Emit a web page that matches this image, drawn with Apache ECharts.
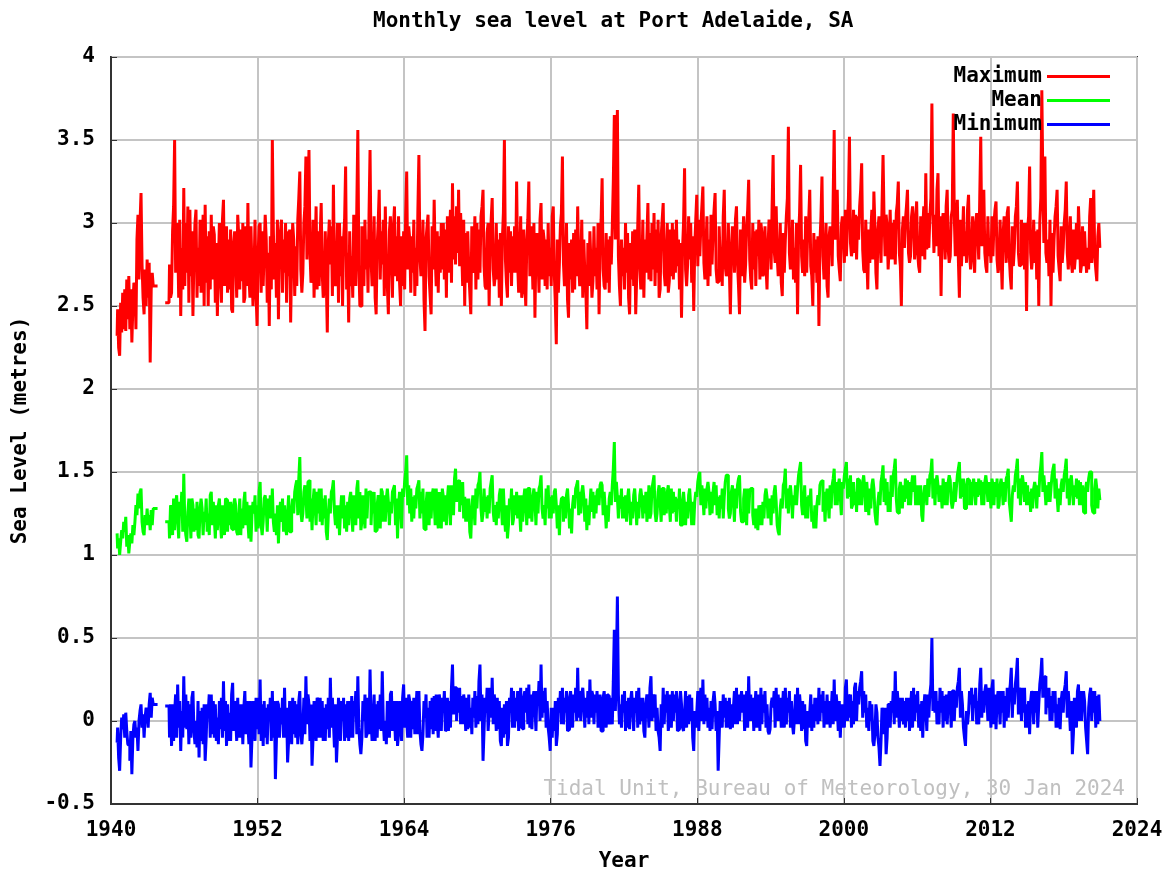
<!DOCTYPE html>
<html>
<head>
<meta charset="utf-8">
<title>Monthly sea level at Port Adelaide, SA</title>
<script src="https://cdn.jsdelivr.net/npm/echarts@6/dist/echarts.min.js"></script>
<style>
  html, body { margin: 0; padding: 0; background: #fff; }
  #chart { width: 1163px; height: 872px; }
</style>
</head>
<body>
<div id="chart"></div>
<script>
// monthly record: Jul 1940 - Jul 1943, then a gap, then Oct 1944 - Jan 2021
var earlyStart = 1940.5;
var lateStart = 1944.75;
var step = 1 / 12;
var seriesNames = ['Maximum', 'Mean', 'Minimum'];

var maxEarly = [
    2.32, 2.48, 2.25, 2.20, 2.52, 2.34,
    2.58, 2.36, 2.60, 2.35, 2.66, 2.42, 2.68, 2.36, 2.60, 2.28, 2.50, 2.64,
    2.62, 2.36, 2.90, 3.05, 2.66, 3.00, 3.18, 2.75, 2.55, 2.45, 2.72, 2.50,
    2.78, 2.55, 2.76, 2.16, 2.60, 2.70, 2.62
];
var meanEarly = [
    1.13, 1.04, 1.10, 1.00, 1.08, 1.15,
    1.10, 1.20, 1.14, 1.23, 1.05, 1.12, 1.01, 1.08, 1.13, 1.07, 1.18, 1.12,
    1.20, 1.30, 1.24, 1.37, 1.28, 1.38, 1.40, 1.20, 1.14, 1.12, 1.24, 1.18,
    1.28, 1.18, 1.24, 1.15, 1.27, 1.18, 1.28
];
var minEarly = [
    -0.13, -0.04, -0.22, -0.30, -0.10, 0.02,
    -0.05, 0.04, -0.10, 0.05, -0.06, -0.14, -0.15, -0.24, -0.06, -0.32, -0.10, -0.02,
    0.00, -0.10, -0.04, -0.18, 0.00, 0.06, 0.10, -0.04, 0.04, -0.10, 0.02, 0.08,
    0.05, -0.04, 0.10, 0.17, 0.02, 0.14, 0.10
];

var maxLate = [
    2.52, 2.75, 2.55,
    2.58, 2.95, 3.10, 3.50, 2.70, 3.00, 2.92, 2.55, 3.02, 2.44, 2.85, 2.60,
    3.21, 2.62, 3.00, 2.70, 3.10, 2.52, 3.08, 2.68, 2.95, 2.44, 2.80, 3.00,
    3.08, 2.55, 2.85, 2.62, 3.02, 2.58, 2.80, 3.05, 2.50, 3.11, 2.64, 2.92,
    2.50, 2.95, 2.60, 3.05, 2.66, 2.98, 2.93, 2.52, 2.88, 2.44, 2.75, 3.00,
    2.70, 2.52, 3.02, 3.14, 2.62, 2.95, 2.98, 2.58, 2.90, 2.60, 2.96, 2.48,
    2.46, 2.88, 2.95, 2.80, 2.55, 3.05, 2.92, 2.60, 2.96, 2.65, 3.00, 2.52,
    2.55, 2.98, 2.62, 3.12, 2.68, 2.55, 2.98, 2.72, 2.50, 2.70, 3.02, 2.58,
    2.38, 2.80, 2.98, 3.00, 2.58, 2.95, 2.62, 2.85, 3.05, 2.90, 2.52, 2.82,
    2.38, 2.92, 2.60, 3.50, 2.96, 2.66, 2.88, 2.55, 3.02, 2.42, 2.85, 2.95,
    3.02, 2.58, 2.90, 2.70, 3.00, 2.52, 2.95, 2.68, 2.96, 2.40, 2.78, 3.00,
    2.90, 2.56, 2.86, 2.62, 3.02, 3.15, 3.31, 2.72, 2.58, 2.70, 3.00, 3.10,
    3.40, 2.78, 3.15, 3.44, 2.82, 2.64, 2.70, 3.02, 2.55, 2.82, 3.10, 2.60,
    2.95, 2.62, 2.92, 3.12, 2.70, 2.55, 2.60, 2.95, 2.66, 2.34, 2.88, 3.02,
    2.75, 2.98, 2.56, 3.23, 2.72, 2.62, 2.70, 3.00, 2.52, 3.00, 2.68, 2.92,
    2.50, 2.90, 3.02, 3.34, 2.60, 2.82, 2.40, 2.95, 2.62, 2.80, 2.55, 3.05,
    2.85, 2.62, 3.10, 3.56, 2.75, 2.50, 2.50, 2.98, 2.66, 2.62, 3.02, 2.72,
    2.90, 2.58, 3.05, 3.44, 2.78, 2.62, 2.70, 3.04, 2.55, 2.45, 2.86, 3.00,
    3.20, 2.66, 2.95, 2.75, 3.02, 2.56, 3.10, 2.72, 2.62, 2.45, 2.95, 3.04,
    2.80, 2.55, 2.98, 3.10, 2.68, 2.92, 2.65, 3.04, 2.64, 2.50, 2.92, 2.62,
    2.95, 2.60, 3.05, 3.31, 2.72, 2.98, 2.90, 2.58, 2.92, 2.70, 3.02, 2.56,
    2.85, 2.62, 3.08, 3.41, 2.80, 2.68, 2.72, 3.02, 2.54, 2.35, 2.90, 2.98,
    3.05, 2.68, 2.56, 2.45, 2.98, 2.72, 3.14, 2.80, 2.62, 2.95, 2.58, 2.92,
    2.70, 3.00, 2.72, 3.00, 2.66, 2.96, 2.55, 3.04, 2.70, 2.90, 3.08, 2.64,
    3.24, 2.78, 3.04, 2.75, 3.10, 2.82, 3.20, 2.74, 3.06, 2.85, 2.62, 3.02,
    2.50, 2.94, 2.64, 2.95, 2.72, 2.58, 2.45, 2.98, 2.70, 2.80, 3.04, 2.60,
    3.00, 2.66, 2.96, 2.70, 3.04, 3.10, 3.20, 2.74, 2.62, 2.60, 2.94, 3.00,
    2.50, 2.86, 3.02, 3.15, 2.72, 2.62, 2.68, 3.00, 2.66, 2.90, 2.55, 2.94,
    2.50, 2.90, 3.06, 3.50, 2.78, 2.64, 2.55, 2.98, 2.70, 2.95, 2.62, 2.92,
    2.70, 2.98, 2.70, 3.25, 2.76, 2.58, 2.80, 3.04, 2.55, 2.60, 2.96, 2.66,
    2.50, 2.88, 3.02, 3.25, 2.68, 2.98, 2.85, 2.60, 3.00, 2.43, 2.86, 2.94,
    2.80, 2.58, 3.02, 3.12, 2.66, 2.96, 2.90, 2.62, 2.90, 2.60, 3.00, 2.68,
    2.85, 2.62, 3.04, 3.10, 2.70, 2.52, 2.27, 2.90, 2.58, 2.75, 2.98, 3.06,
    3.40, 2.76, 2.62, 2.70, 3.00, 2.54, 2.43, 2.88, 2.66, 2.90, 2.58, 2.94,
    2.60, 2.96, 2.68, 3.10, 2.74, 2.62, 2.75, 3.02, 2.55, 2.90, 2.70, 2.60,
    2.36, 2.88, 2.62, 2.95, 2.76, 2.55, 2.65, 2.98, 2.68, 2.85, 2.60, 3.00,
    2.45, 2.86, 3.02, 3.27, 2.72, 2.62, 2.60, 2.94, 2.64, 2.90, 2.58, 2.92,
    2.75, 2.98, 3.25, 3.65, 2.90, 3.35, 3.68, 2.80, 2.62, 2.50, 2.90, 2.68,
    2.85, 2.60, 3.00, 2.70, 2.94, 2.55, 2.45, 2.88, 2.66, 2.95, 2.62, 2.96,
    2.45, 2.68, 2.98, 3.23, 2.74, 2.60, 2.70, 3.02, 2.55, 2.90, 2.70, 2.92,
    3.12, 2.66, 2.94, 2.65, 3.00, 2.72, 3.06, 2.62, 2.96, 2.70, 3.02, 2.55,
    2.60, 2.92, 3.02, 3.12, 2.70, 2.62, 2.80, 3.00, 2.58, 2.65, 2.96, 2.68,
    3.00, 2.66, 2.96, 2.70, 3.02, 2.74, 2.90, 2.60, 2.88, 2.43, 2.84, 3.00,
    3.33, 2.72, 2.62, 2.75, 3.04, 2.78, 3.00, 2.64, 2.92, 2.47, 2.86, 3.02,
    3.17, 2.74, 3.02, 2.80, 2.98, 3.10, 3.22, 2.76, 2.66, 2.85, 3.04, 2.62,
    2.90, 2.68, 3.05, 2.75, 2.96, 3.08, 3.18, 2.72, 2.64, 2.65, 2.98, 2.76,
    2.85, 2.62, 3.04, 3.20, 2.74, 2.68, 2.70, 3.00, 2.72, 2.45, 2.82, 2.98,
    2.90, 2.70, 3.02, 3.10, 2.76, 2.62, 2.45, 2.96, 2.68, 2.85, 3.04, 2.64,
    2.75, 2.98, 3.08, 3.26, 2.78, 2.66, 2.60, 3.00, 2.72, 2.95, 2.62, 2.96,
    2.80, 3.02, 2.66, 3.00, 2.94, 2.68, 2.70, 2.98, 2.74, 2.60, 2.86, 3.02,
    2.95, 2.72, 3.10, 3.41, 2.84, 2.76, 3.10, 2.80, 2.68, 2.75, 3.00, 2.64,
    2.56, 2.94, 2.70, 2.90, 3.04, 3.15, 3.58, 2.82, 2.72, 2.80, 3.02, 2.66,
    2.85, 2.64, 3.00, 2.45, 2.92, 3.06, 3.35, 2.80, 2.70, 2.90, 2.68, 3.04,
    2.70, 2.96, 3.02, 3.20, 2.74, 2.68, 2.50, 2.94, 2.70, 2.90, 2.64, 2.92,
    2.38, 2.88, 3.04, 3.28, 2.80, 2.66, 2.80, 3.00, 2.62, 2.55, 2.92, 2.98,
    2.95, 2.74, 3.15, 3.56, 2.90, 3.10, 3.20, 2.80, 2.72, 2.65, 2.98, 3.04,
    2.95, 2.76, 3.08, 2.80, 2.98, 3.15, 3.52, 2.88, 2.80, 2.85, 3.08, 2.82,
    3.05, 2.78, 3.04, 2.90, 3.10, 3.20, 3.36, 2.84, 2.72, 2.70, 3.02, 2.80,
    2.60, 2.96, 2.76, 2.95, 3.08, 2.78, 3.19, 2.98, 2.70, 2.60, 2.96, 3.04,
    2.90, 2.76, 3.10, 3.41, 3.02, 2.80, 3.05, 2.98, 2.72, 2.85, 3.08, 2.78,
    3.00, 2.78, 3.02, 2.75, 3.06, 3.12, 3.25, 2.82, 2.74, 2.50, 2.96, 3.04,
    2.85, 3.02, 3.10, 3.20, 2.82, 2.76, 2.80, 3.04, 3.10, 3.00, 2.78, 3.00,
    3.13, 2.82, 2.74, 2.70, 3.04, 2.80, 2.95, 3.10, 2.78, 3.30, 2.84, 3.06,
    2.85, 3.04, 3.15, 3.72, 3.06, 2.82, 3.05, 2.86, 3.20, 3.30, 2.80, 3.04,
    2.56, 2.98, 3.06, 2.95, 2.78, 3.10, 3.20, 2.84, 2.76, 2.80, 3.04, 3.08,
    3.66, 3.04, 2.80, 3.00, 3.14, 2.78, 2.55, 3.02, 2.74, 2.90, 3.10, 2.80,
    2.95, 2.76, 3.08, 3.17, 2.82, 2.72, 2.85, 3.04, 2.80, 2.70, 3.00, 3.06,
    2.95, 2.78, 3.15, 3.52, 2.86, 3.10, 3.20, 2.82, 2.74, 2.70, 3.04, 2.80,
    2.90, 2.76, 3.04, 2.80, 3.00, 3.08, 3.13, 2.78, 2.70, 2.75, 3.02, 2.80,
    2.60, 2.94, 3.04, 2.95, 2.76, 3.06, 3.10, 2.80, 2.68, 2.60, 2.98, 2.74,
    2.85, 3.04, 3.10, 3.25, 2.82, 2.74, 2.75, 3.02, 2.78, 3.00, 2.72, 3.00,
    2.47, 2.96, 3.04, 3.34, 2.82, 2.72, 2.80, 3.02, 2.76, 2.95, 2.66, 2.96,
    2.50, 3.00, 3.15, 3.80, 3.25, 2.88, 3.40, 2.82, 2.76, 2.90, 2.68, 3.02,
    2.50, 2.94, 2.70, 2.90, 3.04, 3.10, 3.20, 2.80, 2.72, 2.65, 2.98, 2.76,
    2.85, 3.00, 3.08, 3.25, 2.82, 2.72, 2.90, 3.04, 2.76, 2.70, 2.96, 2.72,
    2.80, 3.00, 2.78, 3.10, 2.92, 2.70, 2.75, 2.98, 2.74, 2.95, 2.80, 2.70,
    2.85, 2.72, 3.04, 3.15, 2.76, 2.98, 3.20, 2.80, 2.72, 2.65, 2.92, 3.00,
    2.85
];

var meanLate = [
    1.20, 1.10, 1.30,
    1.28, 1.12, 1.34, 1.15, 1.30, 1.36, 1.22, 1.10, 1.32, 1.25, 1.38, 1.14,
    1.49, 1.20, 1.12, 1.08, 1.26, 1.34, 1.25, 1.10, 1.34, 1.30, 1.14, 1.28,
    1.15, 1.32, 1.12, 1.10, 1.28, 1.34, 1.28, 1.12, 1.26, 1.20, 1.34, 1.14,
    1.25, 1.12, 1.36, 1.38, 1.18, 1.32, 1.22, 1.10, 1.30, 1.15, 1.30, 1.34,
    1.20, 1.10, 1.30, 1.25, 1.12, 1.34, 1.33, 1.14, 1.30, 1.18, 1.32, 1.16,
    1.15, 1.30, 1.34, 1.30, 1.14, 1.12, 1.22, 1.34, 1.12, 1.28, 1.16, 1.32,
    1.38, 1.18, 1.32, 1.20, 1.10, 1.30, 1.08, 1.24, 1.32, 1.25, 1.36, 1.14,
    1.30, 1.16, 1.38, 1.44, 1.18, 1.12, 1.20, 1.34, 1.36, 1.28, 1.14, 1.34,
    1.22, 1.36, 1.22, 1.40, 1.20, 1.14, 1.25, 1.12, 1.30, 1.07, 1.24, 1.32,
    1.20, 1.34, 1.14, 1.30, 1.16, 1.12, 1.25, 1.36, 1.14, 1.14, 1.28, 1.34,
    1.25, 1.38, 1.42, 1.45, 1.24, 1.46, 1.59, 1.26, 1.20, 1.25, 1.38, 1.42,
    1.35, 1.22, 1.44, 1.45, 1.20, 1.34, 1.15, 1.32, 1.40, 1.30, 1.18, 1.38,
    1.25, 1.40, 1.20, 1.40, 1.18, 1.34, 1.22, 1.36, 1.14, 1.09, 1.24, 1.34,
    1.25, 1.38, 1.40, 1.45, 1.26, 1.18, 1.30, 1.16, 1.30, 1.12, 1.26, 1.36,
    1.22, 1.36, 1.16, 1.30, 1.14, 1.32, 1.18, 1.34, 1.38, 1.25, 1.14, 1.36,
    1.30, 1.18, 1.40, 1.45, 1.22, 1.38, 1.15, 1.20, 1.36, 1.28, 1.16, 1.40,
    1.22, 1.36, 1.38, 1.38, 1.18, 1.34, 1.25, 1.38, 1.14, 1.15, 1.30, 1.36,
    1.30, 1.16, 1.40, 1.38, 1.20, 1.36, 1.20, 1.34, 1.40, 1.32, 1.18, 1.32,
    1.25, 1.38, 1.40, 1.42, 1.18, 1.34, 1.10, 1.30, 1.38, 1.30, 1.16, 1.40,
    1.35, 1.44, 1.50, 1.60, 1.30, 1.42, 1.25, 1.40, 1.20, 1.35, 1.22, 1.36,
    1.28, 1.40, 1.42, 1.45, 1.22, 1.38, 1.25, 1.40, 1.16, 1.15, 1.30, 1.38,
    1.30, 1.18, 1.38, 1.22, 1.36, 1.40, 1.32, 1.18, 1.40, 1.25, 1.16, 1.38,
    1.28, 1.16, 1.40, 1.35, 1.20, 1.36, 1.18, 1.34, 1.42, 1.30, 1.18, 1.42,
    1.38, 1.24, 1.46, 1.52, 1.32, 1.44, 1.45, 1.26, 1.40, 1.30, 1.44, 1.22,
    1.35, 1.20, 1.34, 1.20, 1.34, 1.14, 1.10, 1.28, 1.36, 1.30, 1.18, 1.40,
    1.28, 1.42, 1.44, 1.50, 1.28, 1.20, 1.25, 1.40, 1.26, 1.35, 1.22, 1.36,
    1.25, 1.40, 1.44, 1.48, 1.26, 1.20, 1.30, 1.18, 1.32, 1.22, 1.36, 1.40,
    1.30, 1.18, 1.40, 1.25, 1.14, 1.30, 1.10, 1.18, 1.34, 1.28, 1.40, 1.18,
    1.22, 1.36, 1.24, 1.38, 1.22, 1.36, 1.25, 1.14, 1.36, 1.20, 1.34, 1.40,
    1.30, 1.18, 1.40, 1.40, 1.22, 1.36, 1.20, 1.36, 1.40, 1.32, 1.18, 1.38,
    1.25, 1.40, 1.42, 1.48, 1.28, 1.22, 1.30, 1.18, 1.40, 1.28, 1.42, 1.22,
    1.35, 1.22, 1.36, 1.25, 1.38, 1.40, 1.30, 1.16, 1.30, 1.12, 1.28, 1.34,
    1.35, 1.20, 1.34, 1.22, 1.36, 1.40, 1.30, 1.16, 1.28, 1.13, 1.30, 1.36,
    1.28, 1.40, 1.42, 1.45, 1.24, 1.38, 1.25, 1.38, 1.42, 1.35, 1.20, 1.34,
    1.15, 1.30, 1.18, 1.30, 1.40, 1.26, 1.38, 1.22, 1.36, 1.25, 1.38, 1.40,
    1.30, 1.42, 1.44, 1.42, 1.24, 1.38, 1.28, 1.16, 1.30, 1.20, 1.34, 1.38,
    1.30, 1.42, 1.52, 1.68, 1.32, 1.44, 1.35, 1.22, 1.36, 1.28, 1.40, 1.22,
    1.35, 1.22, 1.36, 1.20, 1.34, 1.40, 1.30, 1.18, 1.32, 1.22, 1.36, 1.40,
    1.30, 1.18, 1.32, 1.22, 1.36, 1.40, 1.35, 1.22, 1.36, 1.25, 1.38, 1.20,
    1.30, 1.42, 1.22, 1.25, 1.40, 1.44, 1.48, 1.26, 1.20, 1.25, 1.38, 1.42,
    1.32, 1.20, 1.40, 1.40, 1.24, 1.38, 1.25, 1.38, 1.42, 1.30, 1.20, 1.40,
    1.25, 1.38, 1.26, 1.35, 1.20, 1.34, 1.28, 1.40, 1.18, 1.18, 1.32, 1.38,
    1.30, 1.18, 1.32, 1.22, 1.36, 1.40, 1.30, 1.18, 1.32, 1.18, 1.32, 1.38,
    1.35, 1.44, 1.48, 1.50, 1.30, 1.42, 1.35, 1.24, 1.40, 1.28, 1.40, 1.44,
    1.38, 1.24, 1.38, 1.25, 1.38, 1.44, 1.30, 1.42, 1.24, 1.35, 1.22, 1.36,
    1.28, 1.40, 1.22, 1.35, 1.44, 1.48, 1.48, 1.28, 1.22, 1.25, 1.38, 1.42,
    1.32, 1.20, 1.40, 1.28, 1.42, 1.46, 1.48, 1.26, 1.20, 1.20, 1.34, 1.40,
    1.30, 1.18, 1.40, 1.25, 1.38, 1.40, 1.40, 1.24, 1.18, 1.28, 1.16, 1.28,
    1.15, 1.30, 1.18, 1.30, 1.18, 1.32, 1.22, 1.36, 1.40, 1.35, 1.22, 1.34,
    1.30, 1.18, 1.36, 1.25, 1.38, 1.42, 1.32, 1.18, 1.14, 1.12, 1.28, 1.34,
    1.28, 1.42, 1.44, 1.52, 1.28, 1.40, 1.25, 1.38, 1.42, 1.35, 1.22, 1.36,
    1.30, 1.42, 1.30, 1.40, 1.48, 1.52, 1.56, 1.30, 1.24, 1.30, 1.42, 1.22,
    1.35, 1.22, 1.36, 1.30, 1.40, 1.20, 1.25, 1.16, 1.30, 1.16, 1.30, 1.36,
    1.30, 1.42, 1.44, 1.45, 1.26, 1.38, 1.20, 1.34, 1.40, 1.32, 1.22, 1.42,
    1.28, 1.42, 1.46, 1.52, 1.30, 1.44, 1.30, 1.42, 1.46, 1.35, 1.24, 1.44,
    1.40, 1.48, 1.52, 1.56, 1.34, 1.46, 1.35, 1.48, 1.28, 1.30, 1.44, 1.30,
    1.38, 1.26, 1.46, 1.45, 1.30, 1.44, 1.30, 1.44, 1.48, 1.40, 1.26, 1.44,
    1.35, 1.24, 1.40, 1.28, 1.42, 1.46, 1.40, 1.26, 1.20, 1.18, 1.32, 1.38,
    1.30, 1.44, 1.48, 1.54, 1.32, 1.46, 1.30, 1.44, 1.26, 1.38, 1.26, 1.48,
    1.35, 1.48, 1.52, 1.58, 1.34, 1.26, 1.25, 1.40, 1.44, 1.40, 1.28, 1.42,
    1.32, 1.46, 1.34, 1.45, 1.30, 1.44, 1.30, 1.42, 1.48, 1.38, 1.48, 1.30,
    1.42, 1.30, 1.42, 1.30, 1.42, 1.24, 1.20, 1.36, 1.42, 1.40, 1.30, 1.46,
    1.35, 1.48, 1.50, 1.58, 1.34, 1.46, 1.30, 1.44, 1.48, 1.42, 1.32, 1.42,
    1.38, 1.28, 1.46, 1.40, 1.30, 1.44, 1.30, 1.44, 1.48, 1.45, 1.32, 1.28,
    1.32, 1.44, 1.32, 1.40, 1.48, 1.52, 1.56, 1.34, 1.46, 1.35, 1.46, 1.28,
    1.28, 1.42, 1.46, 1.45, 1.30, 1.44, 1.30, 1.42, 1.46, 1.40, 1.30, 1.44,
    1.35, 1.46, 1.36, 1.45, 1.30, 1.44, 1.30, 1.44, 1.48, 1.42, 1.32, 1.44,
    1.38, 1.28, 1.46, 1.42, 1.30, 1.44, 1.35, 1.46, 1.28, 1.30, 1.42, 1.46,
    1.40, 1.30, 1.44, 1.32, 1.46, 1.48, 1.52, 1.32, 1.26, 1.20, 1.36, 1.42,
    1.38, 1.48, 1.52, 1.58, 1.34, 1.46, 1.30, 1.44, 1.48, 1.42, 1.32, 1.44,
    1.30, 1.42, 1.30, 1.38, 1.26, 1.40, 1.28, 1.40, 1.44, 1.40, 1.28, 1.42,
    1.35, 1.48, 1.54, 1.62, 1.38, 1.48, 1.40, 1.30, 1.42, 1.32, 1.44, 1.32,
    1.40, 1.48, 1.52, 1.55, 1.34, 1.46, 1.35, 1.26, 1.40, 1.30, 1.42, 1.46,
    1.38, 1.48, 1.52, 1.58, 1.34, 1.46, 1.30, 1.44, 1.48, 1.40, 1.30, 1.42,
    1.35, 1.46, 1.34, 1.45, 1.30, 1.44, 1.30, 1.42, 1.26, 1.25, 1.40, 1.44,
    1.38, 1.46, 1.50, 1.50, 1.30, 1.26, 1.25, 1.40, 1.46, 1.40, 1.28, 1.40,
    1.33
];

var minLate = [
    0.09, -0.10, 0.10,
    -0.15, 0.10, -0.12, 0.05, 0.16, -0.10, 0.22, -0.04, 0.12, -0.18, 0.06, -0.10,
    0.27, -0.04, 0.16, -0.05, 0.12, -0.14, 0.10, -0.10, 0.14, 0.18, -0.06, -0.14,
    0.00, -0.16, 0.12, -0.22, 0.06, -0.12, 0.08, -0.14, 0.10, -0.24, -0.10, 0.10,
    0.05, 0.16, -0.10, 0.16, -0.08, 0.12, -0.10, 0.10, -0.12, 0.02, -0.14, 0.12,
    -0.05, 0.14, -0.10, 0.24, -0.06, 0.12, -0.15, 0.10, -0.12, 0.05, -0.12, 0.16,
    0.23, -0.06, 0.12, 0.02, -0.12, 0.14, -0.10, 0.10, -0.10, 0.10, -0.14, 0.08,
    0.18, -0.08, 0.12, -0.02, -0.14, 0.12, -0.28, -0.10, 0.12, 0.05, -0.12, 0.14,
    -0.05, 0.14, -0.08, 0.25, -0.12, 0.10, -0.15, 0.12, -0.10, 0.08, -0.14, 0.10,
    0.00, 0.14, -0.12, 0.18, -0.10, 0.12, -0.35, -0.12, 0.12, 0.10, -0.10, 0.08,
    -0.02, 0.14, -0.10, 0.20, -0.10, 0.08, -0.25, -0.12, 0.12, 0.05, -0.14, 0.14,
    -0.08, 0.12, -0.10, 0.10, -0.14, 0.12, 0.18, -0.08, -0.14, -0.05, 0.14, -0.08,
    0.27, -0.02, 0.16, 0.10, -0.12, 0.10, -0.27, -0.10, 0.12, 0.05, -0.12, 0.14,
    0.12, -0.10, 0.14, -0.10, 0.12, -0.12, 0.08, -0.12, 0.10, -0.05, 0.14, -0.10,
    0.26, -0.04, 0.14, 0.00, -0.16, 0.10, -0.25, -0.10, 0.14, 0.05, -0.12, 0.12,
    0.00, 0.14, -0.12, 0.10, -0.10, 0.12, -0.12, 0.12, -0.10, 0.15, -0.10, 0.12,
    0.05, 0.18, -0.08, 0.27, -0.04, -0.14, -0.20, -0.10, 0.12, 0.00, 0.16, -0.10,
    -0.08, 0.14, -0.08, 0.31, 0.00, -0.12, 0.00, 0.16, -0.12, 0.10, -0.10, 0.12,
    -0.05, 0.16, -0.06, 0.30, 0.00, -0.12, 0.00, -0.14, 0.12, 0.08, -0.10, 0.16,
    0.18, -0.06, 0.12, 0.02, -0.12, 0.12, -0.15, -0.08, 0.12, 0.05, -0.12, 0.14,
    0.22, -0.04, 0.14, 0.00, -0.10, 0.16, 0.12, -0.10, 0.12, -0.05, 0.14, -0.08,
    0.05, 0.18, -0.08, 0.18, -0.06, -0.14, -0.18, -0.08, 0.12, 0.02, 0.16, -0.10,
    0.08, -0.10, 0.12, -0.05, 0.14, -0.08, 0.15, -0.06, 0.16, 0.00, -0.10, 0.16,
    0.10, -0.06, 0.14, 0.05, 0.18, -0.06, -0.05, 0.14, -0.06, 0.12, -0.04, 0.20,
    0.34, 0.04, 0.20, 0.20, 0.00, 0.18, 0.05, 0.20, -0.02, 0.15, -0.02, 0.16,
    0.10, -0.06, 0.14, -0.05, 0.16, -0.04, 0.08, -0.08, 0.14, 0.02, 0.18, -0.04,
    0.15, -0.02, 0.24, 0.34, 0.00, 0.16, -0.24, -0.06, 0.14, 0.05, 0.20, -0.06,
    0.05, 0.20, 0.02, 0.26, -0.02, 0.16, 0.10, -0.06, 0.14, -0.05, 0.12, -0.12,
    -0.15, 0.08, -0.10, 0.10, -0.08, 0.12, -0.15, -0.10, 0.14, 0.05, 0.20, -0.04,
    0.18, -0.04, 0.14, 0.00, 0.18, -0.06, 0.08, 0.20, -0.04, -0.05, 0.14, 0.18,
    0.05, 0.20, -0.02, 0.22, -0.04, 0.16, -0.05, 0.14, 0.18, 0.08, -0.06, 0.18,
    0.10, 0.24, 0.00, 0.34, 0.02, 0.18, 0.05, 0.20, -0.04, 0.12, -0.04, -0.10,
    -0.18, 0.08, -0.10, 0.08, -0.06, 0.12, -0.15, -0.08, 0.14, 0.05, 0.18, -0.02,
    0.20, -0.02, 0.14, 0.05, 0.18, -0.06, -0.05, 0.14, 0.18, 0.10, -0.04, 0.16,
    0.05, 0.20, 0.00, 0.32, 0.02, 0.18, 0.00, 0.16, 0.20, 0.10, -0.04, 0.14,
    0.02, 0.18, -0.02, 0.25, 0.02, 0.18, 0.15, -0.02, 0.16, 0.05, 0.18, -0.04,
    0.05, 0.16, -0.06, -0.06, 0.14, 0.18, 0.08, -0.04, 0.16, 0.15, -0.02, 0.14,
    0.10, -0.02, 0.24, 0.55, 0.06, 0.32, 0.75, 0.16, -0.02, 0.10, -0.04, 0.16,
    0.05, 0.18, -0.06, 0.12, -0.04, 0.14, -0.05, 0.12, 0.18, 0.08, -0.06, 0.14,
    0.05, 0.18, -0.04, 0.20, -0.02, 0.14, 0.00, 0.14, -0.06, -0.10, 0.10, 0.16,
    0.10, -0.04, 0.20, 0.27, 0.00, 0.16, 0.02, 0.16, -0.06, 0.08, -0.06, -0.10,
    -0.18, 0.10, -0.04, 0.20, -0.02, 0.16, 0.05, 0.18, -0.06, 0.00, 0.16, -0.04,
    0.18, 0.00, 0.16, 0.05, 0.18, -0.06, -0.05, 0.12, 0.18, 0.10, -0.04, -0.06,
    0.05, 0.18, -0.04, 0.15, -0.02, 0.16, 0.00, 0.14, -0.10, -0.18, 0.06, -0.04,
    0.05, 0.18, -0.06, 0.10, 0.20, 0.00, 0.25, -0.02, 0.16, 0.00, 0.14, -0.04,
    0.08, -0.06, 0.12, -0.05, 0.12, 0.18, 0.10, -0.06, 0.06, -0.30, -0.10, 0.12,
    0.10, -0.04, 0.16, 0.02, 0.14, -0.04, 0.12, -0.04, 0.14, -0.05, 0.10, -0.04,
    0.08, 0.18, -0.02, 0.20, -0.02, 0.16, 0.00, 0.12, 0.18, 0.05, 0.16, -0.06,
    0.05, 0.18, -0.04, 0.27, 0.00, 0.16, 0.00, 0.14, -0.06, 0.08, 0.18, -0.04,
    0.02, 0.16, -0.06, 0.20, -0.02, 0.16, 0.05, 0.18, -0.04, 0.10, -0.06, -0.08,
    -0.05, 0.10, 0.14, 0.08, 0.18, -0.04, 0.20, 0.00, 0.16, 0.00, 0.14, -0.04,
    0.05, 0.18, -0.04, 0.20, -0.02, 0.14, 0.05, 0.18, -0.04, 0.12, -0.02, -0.08,
    0.02, 0.16, -0.02, 0.20, -0.02, 0.16, 0.08, -0.06, 0.12, -0.05, 0.10, -0.12,
    -0.15, 0.06, -0.04, 0.05, 0.16, -0.06, 0.10, -0.04, 0.14, 0.00, 0.14, -0.02,
    0.20, 0.00, 0.16, 0.05, 0.18, -0.04, 0.12, -0.02, 0.16, -0.02, 0.12, -0.04,
    0.05, 0.18, -0.02, 0.25, 0.00, 0.16, 0.08, -0.06, 0.12, -0.10, 0.10, -0.04,
    0.10, -0.04, 0.20, 0.25, 0.00, 0.16, 0.02, 0.16, -0.04, 0.12, -0.02, 0.20,
    0.23, 0.00, 0.18, 0.10, 0.20, 0.24, 0.30, 0.02, 0.18, 0.05, 0.16, -0.04,
    0.08, -0.06, 0.12, 0.00, 0.10, -0.12, -0.15, -0.08, 0.10, 0.05, -0.10, -0.16,
    -0.27, -0.12, 0.08, 0.05, -0.08, 0.08, -0.20, -0.10, 0.10, 0.10, -0.04, 0.12,
    0.05, 0.18, -0.02, 0.30, 0.02, 0.18, 0.10, -0.04, 0.14, 0.00, 0.14, -0.02,
    0.12, -0.04, 0.14, 0.00, 0.14, -0.06, 0.08, 0.18, -0.04, 0.20, 0.00, 0.16,
    0.05, 0.18, -0.04, 0.10, -0.06, 0.12, -0.10, 0.08, 0.16, 0.08, -0.06, 0.16,
    0.02, 0.16, 0.22, 0.50, 0.06, 0.18, 0.05, 0.18, -0.02, 0.12, -0.02, 0.20,
    0.05, 0.18, -0.04, 0.15, 0.00, 0.16, -0.02, 0.12, 0.18, 0.10, -0.04, 0.18,
    0.18, 0.00, 0.16, 0.08, 0.20, 0.24, 0.32, 0.02, 0.18, 0.10, -0.04, -0.10,
    -0.15, 0.06, -0.02, 0.05, 0.18, 0.10, 0.20, 0.00, 0.16, 0.08, 0.20, -0.02,
    0.12, -0.02, 0.22, 0.32, 0.02, 0.18, 0.05, 0.18, 0.22, 0.15, 0.00, 0.20,
    0.10, -0.04, 0.20, 0.25, -0.02, 0.16, -0.05, 0.12, 0.18, 0.12, -0.02, 0.18,
    0.05, 0.18, -0.04, 0.15, 0.00, 0.20, 0.02, 0.16, 0.22, 0.32, 0.02, 0.20,
    0.10, 0.22, 0.28, 0.38, 0.04, 0.20, 0.15, 0.00, 0.20, 0.05, 0.20, -0.04,
    0.10, -0.04, 0.12, -0.08, 0.12, 0.18, 0.15, -0.02, 0.18, 0.05, 0.18, -0.04,
    0.10, 0.22, 0.28, 0.38, 0.14, 0.26, 0.27, 0.04, 0.20, 0.08, 0.20, 0.00,
    0.15, 0.00, 0.18, 0.05, 0.18, -0.04, 0.10, -0.04, 0.14, -0.05, 0.12, 0.18,
    0.05, 0.18, 0.22, 0.30, 0.02, 0.18, 0.08, -0.06, 0.12, -0.20, -0.08, 0.14,
    0.10, -0.04, 0.18, 0.22, 0.00, 0.18, 0.00, 0.14, 0.18, 0.12, -0.04, -0.12,
    -0.20, 0.08, 0.16, 0.20, 0.00, 0.18, 0.05, 0.18, -0.04, 0.15, -0.02, 0.16,
    0.00
];

var monoFont = '"DejaVu Sans Mono", "Liberation Mono", monospace';

// join both stretches of record, with an empty point for the gap
function toPoints(early, late) {
    var pts = [];
    for (var i = 0; i < early.length; i++) {
        pts.push([earlyStart + i * step, early[i]]);
    }
    var earlyEnd = earlyStart + (early.length - 1) * step;
    pts.push([(earlyEnd + lateStart) / 2, '-']);
    for (var j = 0; j < late.length; j++) {
        pts.push([lateStart + j * step, late[j]]);
    }
    return pts;
}

function lineSeries(name, color, early, late) {
    return {
        name: name,
        type: 'line',
        step: 'middle',
        data: toPoints(early, late),
        showSymbol: false,
        connectNulls: false,
        lineStyle: { color: color, width: 3 },
        itemStyle: { color: color },
        animation: false
    };
}

var chart = echarts.init(document.getElementById('chart'));

var option = {
    backgroundColor: '#fff',
    animation: false,
    title: {
        text: 'Monthly sea level at Port Adelaide, SA',
        left: 373,
        top: 11,
        padding: 0,
        textStyle: { fontFamily: monoFont, fontSize: 21, fontWeight: 'bold', color: '#000' }
    },
    legend: {
        data: seriesNames,
        orient: 'vertical',
        align: 'right',
        right: 53,
        top: 66,
        padding: 0,
        itemWidth: 63,
        itemHeight: 3,
        itemGap: 3,
        icon: 'rect',
        selectedMode: false,
        textStyle: { fontFamily: monoFont, fontSize: 21, fontWeight: 'bold', color: '#000', lineHeight: 21 }
    },
    grid: {
        left: 111,
        right: 26,
        top: 57,
        bottom: 68,
        outerBoundsMode: 'none',
        containLabel: false,
        show: true,
        borderColor: '#333',
        borderWidth: 2
    },
    xAxis: {
        type: 'value',
        min: 1940,
        max: 2024,
        interval: 12,
        name: 'Year',
        nameLocation: 'middle',
        nameGap: 47,
        nameTextStyle: { fontFamily: monoFont, fontSize: 21, fontWeight: 'bold', color: '#000' },
        axisLine: { show: true, onZero: false, lineStyle: { color: '#333', width: 2 } },
        axisTick: { show: true, inside: true, length: 6, lineStyle: { color: '#333' } },
        axisLabel: {
            margin: 16,
            fontFamily: monoFont, fontSize: 21, fontWeight: 'bold', color: '#000',
            formatter: function (v) { return String(v); }
        },
        splitLine: { show: true, lineStyle: { color: '#c4c4c4', width: 2 } }
    },
    yAxis: {
        type: 'value',
        min: -0.5,
        max: 4,
        interval: 0.5,
        name: 'Sea Level (metres)',
        nameLocation: 'middle',
        nameGap: 80,
        nameTextStyle: { fontFamily: monoFont, fontSize: 21, fontWeight: 'bold', color: '#000' },
        axisLine: { show: true, lineStyle: { color: '#333', width: 2 } },
        axisTick: { show: true, inside: true, length: 6, lineStyle: { color: '#333' } },
        axisLabel: { margin: 16, fontFamily: monoFont, fontSize: 21, fontWeight: 'bold', color: '#000' },
        splitLine: { show: true, lineStyle: { color: '#c4c4c4', width: 2 } }
    },
    graphic: [{
        type: 'text',
        right: 38,
        top: 779,
        style: {
            text: 'Tidal Unit, Bureau of Meteorology, 30 Jan 2024',
            font: '21px ' + monoFont,
            fill: '#c0c0c0'
        }
    }],
    series: [
        lineSeries(seriesNames[0], '#ff0000', maxEarly, maxLate),
        lineSeries(seriesNames[1], '#00ff00', meanEarly, meanLate),
        lineSeries(seriesNames[2], '#0000ff', minEarly, minLate)
    ]
};

chart.setOption(option);
</script>
</body>
</html>
